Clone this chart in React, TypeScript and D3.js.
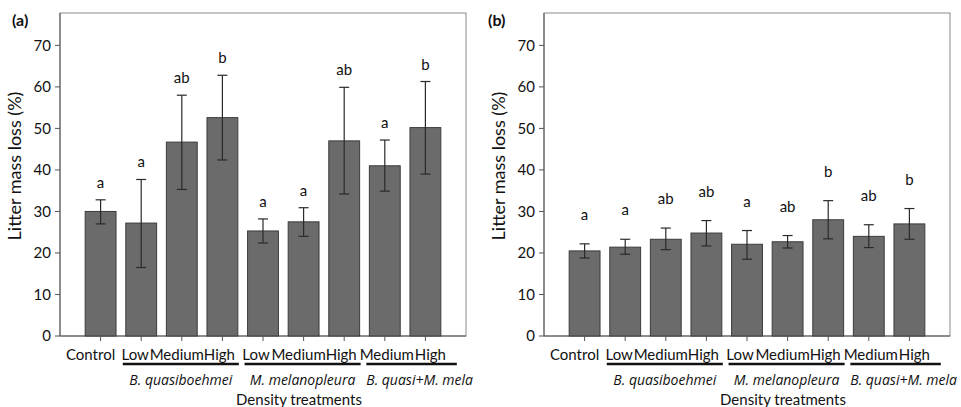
import React from 'react';
import * as d3 from 'd3';

const categories = ['Control', 'Low', 'Medium', 'High', 'Low', 'Medium', 'High', 'Medium', 'High'];
const groups = [
  { name: 'B. quasiboehmei', from: 1, to: 3 },
  { name: 'M. melanopleura', from: 4, to: 6 },
  { name: 'B. quasi+M. mela', from: 7, to: 8 },
];

const meanA = [30, 27.2, 46.7, 52.6, 25.3, 27.5, 47, 41, 50.2];
const lowA = [27, 16.5, 35.3, 42.4, 22.4, 24, 34.2, 34.9, 39];
const highA = [32.8, 37.7, 58, 62.8, 28.2, 30.9, 59.9, 47.2, 61.3];
const lettersA = ['a', 'a', 'ab', 'b', 'a', 'a', 'ab', 'a', 'b'];

const meanB = [20.5, 21.4, 23.3, 24.8, 22.1, 22.7, 28, 24, 27];
const lowB = [18.8, 19.7, 20.8, 21.7, 18.5, 21.2, 23.4, 21.3, 23.3];
const highB = [22.2, 23.3, 26, 27.8, 25.4, 24.2, 32.6, 26.8, 30.7];
const lettersB = ['a', 'a', 'ab', 'ab', 'a', 'ab', 'b', 'ab', 'b'];

const yTicks = [0, 10, 20, 30, 40, 50, 60, 70];

// small horizontal nudges of the category labels, as in the original layout
const labelNudge = [-10, -6, -5, -3, -7, -5, -3, 2, 5];

const FONT = 'Lato, "Open Sans", sans-serif';

interface PanelProps {
  x0: number;
  tag: string;
  tagX: number;
  mean: number[];
  low: number[];
  high: number[];
  letters: string[];
  letterGap: number;
}

const Panel: React.FC<PanelProps> = ({ x0, tag, tagX, mean, low, high, letters, letterGap }) => {
  const left = x0;
  const right = x0 + 406;
  const top = 13;
  const bottom = 336;

  const idx = categories.map((_, i) => String(i));
  const x = d3.scaleBand<string>().domain(idx).range([left, right]).paddingInner(0.24).paddingOuter(0.62);
  const y = d3.scaleLinear().domain([0, 77.8]).range([bottom, top]);
  const bw = x.bandwidth();
  const cx = (i: number) => (x(String(i)) || 0) + bw / 2;

  return (
    <g fontFamily={FONT}>
      <text x={tagX} y={26} fontSize={16} fontWeight="bold" fill="#111">{tag}</text>
      {/* frame */}
      <rect x={left} y={top} width={right - left} height={bottom - top} fill="none" stroke="#8a8a8a" strokeWidth={1} />
      <line x1={left} x2={left} y1={top} y2={bottom} stroke="#555" />
      <line x1={left} x2={right} y1={bottom} y2={bottom} stroke="#555" />
      {yTicks.map(t => (
        <g key={t}>
          <line x1={left - 5} x2={left} y1={y(t)} y2={y(t)} stroke="#555" />
          <text x={left - 9} y={y(t)} dy="0.36em" textAnchor="end" fontSize={15} fill="#111">{t}</text>
        </g>
      ))}
      <text transform={`translate(${x0 - 39},${166}) rotate(-90)`} textAnchor="middle" fontSize={18} fill="#111">
        Litter mass loss (%)
      </text>
      {mean.map((m, i) => (
        <g key={i}>
          <rect x={x(String(i))} y={y(m)} width={bw} height={bottom - y(m)} fill="#6b6b6b" stroke="#3c3c3c" strokeWidth={1} />
          <line x1={cx(i)} x2={cx(i)} y1={y(high[i])} y2={y(low[i])} stroke="#2a2a2a" strokeWidth={1.2} />
          <line x1={cx(i) - 5} x2={cx(i) + 5} y1={y(high[i])} y2={y(high[i])} stroke="#2a2a2a" strokeWidth={1.2} />
          <line x1={cx(i) - 5} x2={cx(i) + 5} y1={y(low[i])} y2={y(low[i])} stroke="#2a2a2a" strokeWidth={1.2} />
          <text x={cx(i)} y={y(high[i]) - letterGap} textAnchor="middle" fontSize={15} fill="#111">{letters[i]}</text>
          <line x1={cx(i)} x2={cx(i)} y1={bottom} y2={bottom + 5} stroke="#555" />
          <text x={cx(i) + labelNudge[i]} y={bottom + 24} textAnchor="middle" fontSize={15} fill="#111">{categories[i]}</text>
        </g>
      ))}
      {groups.map(g => {
        const gx1 = (x(String(g.from)) || 0) - 3;
        const gx2 = (x(String(g.to)) || 0) + bw + (g.to === 8 ? 16 : 1);
        return (
          <g key={g.name}>
            <line x1={gx1} x2={gx2} y1={bottom + 28} y2={bottom + 28} stroke="#111" strokeWidth={2.5} />
            <text x={(gx1 + gx2) / 2 + (g.to === 8 ? 8 : 0)} y={bottom + 49} textAnchor="middle" fontSize={14} fontStyle="italic" fontFamily='"Open Sans", sans-serif' fill="#111">{g.name}</text>
          </g>
        );
      })}
      <text x={(left + right) / 2 + 36} y={bottom + 69} textAnchor="middle" fontSize={15} fill="#111">Density treatments</text>
    </g>
  );
};

export default function App() {
  return (
    <svg width={961} height={407} style={{ position: 'absolute', left: 0, top: 0, background: '#fff' }}>
      <rect width={961} height={407} fill="#fff" />
      <Panel x0={60} tag="(a)" tagX={12} mean={meanA} low={lowA} high={highA} letters={lettersA} letterGap={12} />
      <Panel x0={544} tag="(b)" tagX={488} mean={meanB} low={lowB} high={highB} letters={lettersB} letterGap={24} />
    </svg>
  );
}
